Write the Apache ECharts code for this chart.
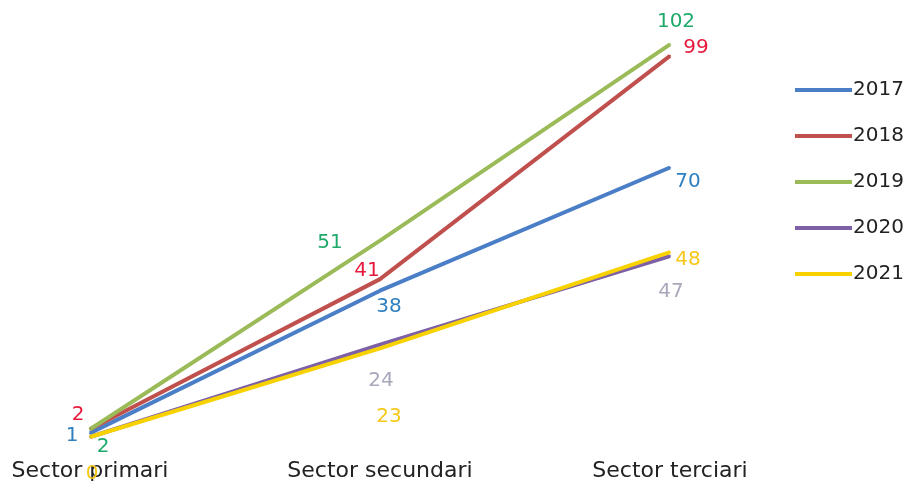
<!DOCTYPE html>
<html>
<head>
<meta charset="utf-8">
<script src="https://cdn.jsdelivr.net/npm/echarts@6/dist/echarts.min.js"></script>
<style>html,body{margin:0;padding:0;background:#fff}#c{width:914px;height:490px}</style>
</head>
<body>
<div id="c"></div>
<script>
var categories = ['Sector primari', 'Sector secundari', 'Sector terciari'];
var years = ['2017', '2018', '2019', '2020', '2021'];
var v2017 = [1, 38, 70];
var v2018 = [2, 41, 99];
var v2019 = [2, 51, 102];
var v2020 = [0, 24, 47];
var v2021 = [0, 23, 48];
var values = [v2017, v2018, v2019, v2020, v2021];

var lineColors = ['#4a7ec6', '#c0504d', '#9bbb59', '#7d60a6', '#f7d200'];
var labelColors = ['#2f80c0', '#e8193c', '#1faa6c', '#a8a8ba', '#f5c81a'];
// label offsets (style only)
var offsets = [
  [[-18, 3], [9, 16], [18, 14]],
  [[-12, -15], [-13, -8], [26, -8]],
  [[13, 17], [-50, 2], [6, -23]],
  [null, [1, 36], [1, 36]],
  [[2, 37], [9, 68], [18, 8]]
];

var chart = echarts.init(document.getElementById('c'));
var series = years.map(function (y, i) {
  return {
    name: y,
    type: 'line',
    symbol: 'circle',
    symbolSize: 2,
    lineStyle: { width: 4, color: lineColors[i] },
    itemStyle: { color: lineColors[i] },
    emphasis: { disabled: true },
    data: values[i].map(function (v, j) {
      var off = offsets[i][j];
      return {
        value: v,
        label: off ? { show: true, position: 'inside', offset: off } : { show: false }
      };
    }),
    label: {
      show: true,
      color: labelColors[i],
      fontFamily: 'DejaVu Sans',
      fontSize: 20
    }
  };
});

chart.setOption({
  animation: false,
  backgroundColor: '#ffffff',
  grid: { left: 90, right: 244, top: 13.5, bottom: 53 },
  legend: {
    orient: 'vertical',
    left: 790,
    top: 75,
    icon: 'rect',
    itemWidth: 57,
    itemHeight: 4,
    itemGap: 26,
    data: years.map(function (y, i) { return { name: y, itemStyle: { color: lineColors[i] } }; }),
    textStyle: { fontFamily: 'DejaVu Sans', fontSize: 20, color: '#222', lineHeight: 20, padding: [0, 0, 0, -4] }
  },
  xAxis: {
    type: 'category',
    data: categories,
    boundaryGap: false,
    axisLine: { show: false },
    axisTick: { show: false },
    axisLabel: { margin: 23, fontFamily: 'DejaVu Sans', fontSize: 22, color: '#222' }
  },
  yAxis: {
    type: 'value',
    min: 0,
    max: 110,
    show: false,
    splitLine: { show: false }
  },
  series: series
});
</script>
</body>
</html>
